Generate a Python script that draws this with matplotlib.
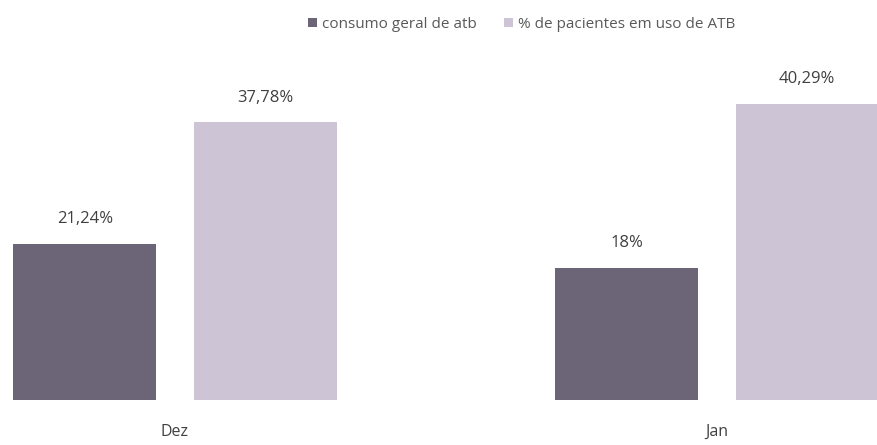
import numpy as np
import matplotlib
matplotlib.use('Agg')
import matplotlib.pyplot as plt

months = ['Dez', 'Jan']
consumo = [21.24, 18.0]
pacientes = [37.78, 40.29]
lbl_consumo = ['21,24%', '18%']
lbl_pacientes = ['37,78%', '40,29%']
series_names = ['consumo geral de atb', '% de pacientes em uso de ATB']

plt.rcParams['font.family'] = ['Open Sans', 'DejaVu Sans']

fig = plt.figure(figsize=(8.77, 4.45), dpi=100)
ax = fig.add_axes([0, 45/445., 1, 340/445.])

x = np.arange(len(months))
w = 0.264
off = 0.1665
c1 = '#6c6477'
c2 = '#cdc5d6'
b1 = ax.bar(x - off, consumo, w, color=c1, label=series_names[0])
b2 = ax.bar(x + off, pacientes, w, color=c2, label=series_names[1])

for bars, labels in [(b1, lbl_consumo), (b2, lbl_pacientes)]:
    for b, t in zip(bars, labels):
        ax.annotate(t, (b.get_x() + b.get_width()/2, b.get_height()),
                    xytext=(0, 12), textcoords='offset points',
                    ha='center', va='bottom', fontsize=12, color='#404040')

ax.set_xlim(-175/542., 702/542.)
ax.set_ylim(0, 340/7.35)
ax.set_xticks(x)
ax.set_xticklabels(months, fontsize=11.5, color='#404040')
ax.tick_params(axis='x', length=0, pad=17)
ax.set_yticks([])
for s in ax.spines.values():
    s.set_visible(False)

leg = fig.legend(loc='upper center', bbox_to_anchor=(0.595, 0.993), ncol=2, frameon=False,
                 fontsize=11, handlelength=0.6, handleheight=0.6, handletextpad=0.3,
                 columnspacing=1.8)
for t in leg.get_texts():
    t.set_color('#595959')

plt.savefig('out.png', dpi=100)
